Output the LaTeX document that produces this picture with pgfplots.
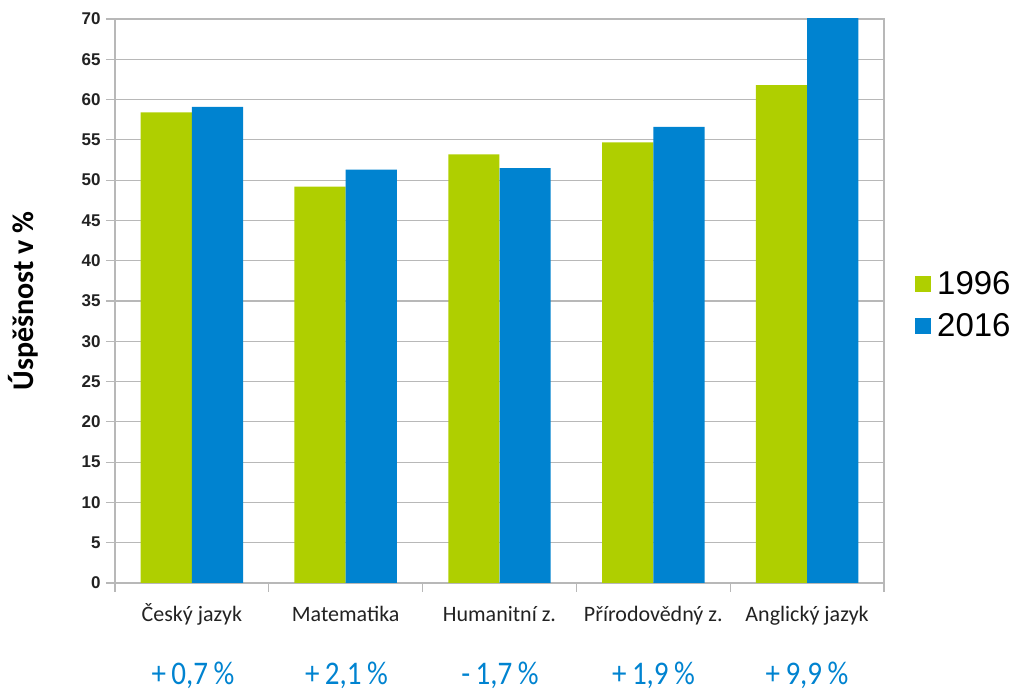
\documentclass[border=0pt]{standalone}
\usepackage{pgfplots}
\pgfplotsset{compat=1.18}
\usepackage{fontspec}
\setmainfont{Carlito}
\newfontfamily\arialf{Liberation Sans}
\newfontfamily\condf[FakeStretch=0.88]{Carlito}
\definecolor{cgreen}{HTML}{AFCF00}
\definecolor{cblue}{HTML}{0083D0}
\definecolor{cgrid}{HTML}{B8B8B8}
\definecolor{ctext}{HTML}{222222}

\begin{document}
\begin{tikzpicture}
\begin{axis}[
  name=ax, at={(0,0)}, anchor=south west,
  scale only axis, width=769pt, height=564pt,
  xmin=-0.5, xmax=4.5, ymin=0, ymax=70,
  ytick={0,5,...,70},
  ymajorgrids, grid style={cgrid, line width=1.2pt},
  axis line style={cgrid, line width=1.2pt},
  tick pos=left,
  y tick style={cgrid, line width=1.2pt},
  tick align=outside, major tick length=9pt,
  xtick={0,1,2,3,4},
  xticklabels={Český jazyk, Matematika, Humanitní z., Přírodovědný z., Anglický jazyk},
  x tick style={draw=none},
  extra x ticks={-0.5,0.5,1.5,2.5,3.5,4.5},
  extra x tick labels={},
  extra x tick style={x tick style={cgrid, line width=1.2pt, draw=cgrid}, major tick length=9pt},
  xticklabel style={font=\fontsize{22}{22}\selectfont, text=ctext, anchor=base},
  xticklabel shift=30pt,
  /pgf/number format/assume math mode=true,
  yticklabel style={font=\arialf\bfseries\fontsize{17}{17}\selectfont, text=ctext, xshift=-2pt},
  ylabel={Úspěšnost v \%},
  ylabel style={font=\bfseries\fontsize{30}{30}\selectfont, text=black, yshift=36pt},
  clip=true,
  legend style={at={(1,0.493)}, anchor=west, xshift=28pt, draw=none,
    font=\arialf\fontsize{33}{33}\selectfont, row sep=14pt,
    /tikz/every even column/.append style={column sep=2pt}},
  legend image code/.code={\fill[#1] (0pt,-8pt) rectangle (16pt,8pt);},
  legend style={nodes={inner xsep=6pt}},
]
\addplot[ybar, bar width=0.333, bar shift=-0.1667, fill=cgreen, draw=none]
  coordinates {(0,58.4) (1,49.2) (2,53.2) (3,54.7) (4,61.8)};
\addplot[ybar, bar width=0.333, bar shift=0.1667, fill=cblue, draw=none]
  coordinates {(0,59.1) (1,51.3) (2,51.5) (3,56.6) (4,71.7)};
\legend{1996, 2016}
\end{axis}
\begin{scope}[every node/.style={font=\condf\fontsize{33}{33}\selectfont, text=cblue}]
\node at (78pt,-92pt) {+\,0,7\,\%};
\node at (231.5pt,-92pt) {+\,2,1\,\%};
\node at (385pt,-92pt) {-\,1,7\,\%};
\node at (538.5pt,-92pt) {+\,1,9\,\%};
\node at (692pt,-92pt) {+\,9,9\,\%};
\end{scope}
\pgfresetboundingbox
\path (-115pt,-110pt) rectangle (903pt,583pt);
\end{tikzpicture}
\end{document}
